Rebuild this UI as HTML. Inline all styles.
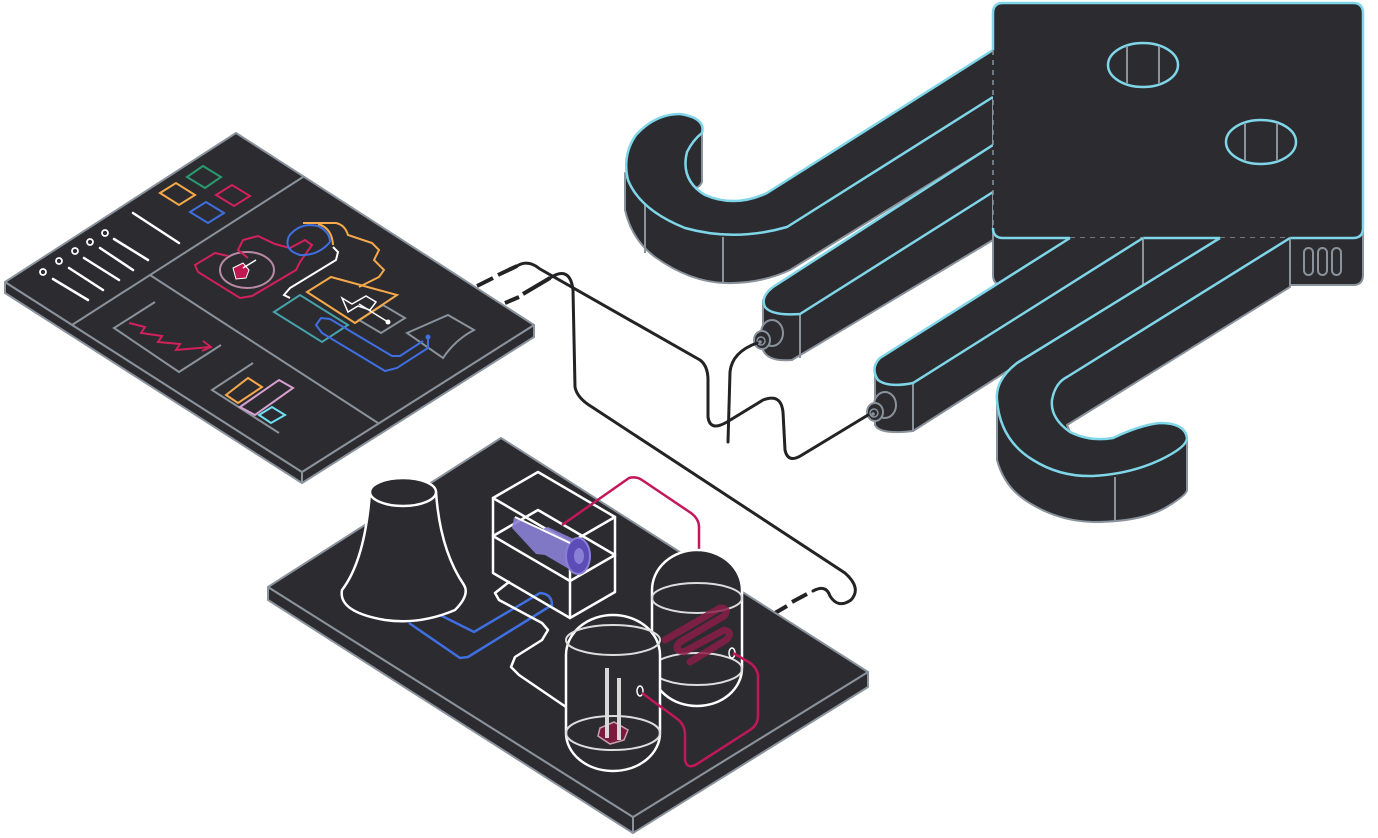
<!DOCTYPE html>
<html><head><meta charset="utf-8"><style>
html,body{margin:0;padding:0;background:#fff;}
svg{display:block;}
</style></head><body>
<svg width="1378" height="838" viewBox="0 0 1378 838" xmlns="http://www.w3.org/2000/svg">
<defs>
<style>
.d{fill:#2b2b30;stroke:#8a929c;stroke-width:2;stroke-linejoin:round}
.c{fill:#2b2b30;stroke:#7fd6e8;stroke-width:2.5;stroke-linejoin:round}
.g{fill:none;stroke:#8a929c;stroke-width:2}
.k{fill:none;stroke:#232326;stroke-width:3;stroke-linecap:round;stroke-linejoin:round}
.kd{fill:none;stroke:#232326;stroke-width:4;stroke-linecap:butt}
.w{fill:none;stroke:#fff;stroke-width:2.5;stroke-linejoin:round;stroke-linecap:round}
</style>
</defs>

<!-- ===== TOP RIGHT STRUCTURE ===== -->
<!-- J1 side -->
<path class="d" d="M625,173 L625,210 Q632,240 655,257 Q690,282 725,283 Q760,284 790,270 L993,145 L993,97 L787,227 Q735,242 685,228 Q640,210 628,180 Z"/>
<path class="d" d="M702,133 L702,182 Q698,191 688,186 L682,170 Q680,150 702,133Z"/>
<line class="g" x1="645" y1="205" x2="645" y2="253"/>
<line class="g" x1="723" y1="237" x2="723" y2="282"/>
<!-- J1 top -->
<path class="c" d="M993,50 L767,193 Q735,208 705,195 Q680,180 687,152 Q693,140 702,133 Q706,118 680,114 Q655,114 636,135 Q622,155 628,180 Q640,210 685,228 Q735,242 787,227 L993,97"/>
<!-- Bar2 side -->
<path class="d" d="M763,300 L763,350 Q768,362 792,360 L993,240 L993,192 L800,314 Q772,316 765,307 Z"/>
<line class="g" x1="800" y1="314" x2="800" y2="358"/>
<path class="c" d="M993,145 L773,287 Q760,297 765,307 Q772,316 800,314 L993,192"/>
<!-- bar2 knob -->
<ellipse class="d" cx="772" cy="333" rx="11" ry="13"/>
<ellipse class="d" cx="762" cy="340" rx="8" ry="9"/>
<circle cx="761" cy="341" r="4" fill="none" stroke="#8a929c" stroke-width="1.5"/>
<circle cx="760" cy="342" r="1.8" fill="#8a929c"/>

<!-- square box under -->
<path class="d" d="M993,230 L993,275 Q993,285 1003,285 L1353,285 Q1363,285 1363,275 L1363,230 Z"/>
<line class="g" x1="1138" y1="238" x2="1138" y2="283"/>
<line class="g" x1="1290" y1="238" x2="1290" y2="285"/>
<rect x="1304" y="248" width="9" height="27" rx="4.5" fill="none" stroke="#8a929c" stroke-width="2"/>
<rect x="1318" y="248" width="9" height="27" rx="4.5" fill="none" stroke="#8a929c" stroke-width="2"/>
<rect x="1332" y="248" width="9" height="27" rx="4.5" fill="none" stroke="#8a929c" stroke-width="2"/>
<!-- square top -->
<rect x="993" y="3" width="370" height="235" rx="10" fill="#2b2b30"/>
<path d="M993,50 L993,13 Q993,3 1003,3 L1353,3 Q1363,3 1363,13 L1363,228 Q1363,238 1353,238 L1290,238" fill="none" stroke="#7fd6e8" stroke-width="2.5"/>
<path d="M993,50 L993,228" fill="none" stroke="#8a929c" stroke-width="1.5" stroke-dasharray="5,5"/>
<path d="M993,228 Q993,238 1003,238 L1070,238 M1143,238 L1220,238" fill="none" stroke="#7fd6e8" stroke-width="2.5"/>
<path d="M1070,238 L1143,238 M1220,238 L1290,238" fill="none" stroke="#8a929c" stroke-width="1.5" stroke-dasharray="5,5"/>
<ellipse cx="1143" cy="65" rx="35" ry="22" fill="none" stroke="#7fd6e8" stroke-width="2.5"/>
<line class="g" x1="1127" y1="46" x2="1127" y2="84"/><line class="g" x1="1159" y1="46" x2="1159" y2="84"/>
<ellipse cx="1261" cy="142" rx="35" ry="22" fill="none" stroke="#7fd6e8" stroke-width="2.5"/>
<line class="g" x1="1245" y1="123" x2="1245" y2="161"/><line class="g" x1="1277" y1="123" x2="1277" y2="161"/>

<!-- Bar3 -->
<path class="d" d="M875,367 L875,425 Q880,435 913,431 L1143,285 L1143,238 L913,383 Q888,388 878,380 Z"/>
<line class="g" x1="913" y1="383" x2="913" y2="431"/>
<path class="c" d="M1070,238 L880,358 Q870,368 878,380 Q888,388 913,383 L1143,238"/>
<ellipse class="d" cx="885" cy="405" rx="11" ry="13"/>
<ellipse class="d" cx="875" cy="412" rx="8" ry="9"/>
<circle cx="874" cy="413" r="4" fill="none" stroke="#8a929c" stroke-width="1.5"/>
<circle cx="873" cy="414" r="1.8" fill="#8a929c"/>

<!-- J2 -->
<path class="d" d="M1067,425 L1290,287 L1290,238 L1067,377 Q1055,383 1052,400 Q1050,418 1070,432 Z"/>
<path class="d" d="M997,400 L997,460 Q1005,490 1033,505 Q1060,521 1093,522 Q1140,522 1165,508 Q1187,495 1187,490 L1187,440 Q1185,447 1160,460 Q1130,474 1093,476 Q1060,477 1033,460 Q1000,440 997,400 Z"/>
<line class="g" x1="1115" y1="477" x2="1115" y2="520"/>
<path class="c" d="M1220,238 L1017,363 Q995,380 997,400 Q1000,440 1033,460 Q1060,477 1093,476 Q1130,474 1160,460 Q1187,447 1187,438 Q1185,423 1160,423 Q1140,425 1113,438 Q1090,442 1070,432 Q1050,418 1052,400 Q1055,383 1067,377 L1290,238"/>

<!-- ===== CABLES ===== -->
<line class="kd" x1="477" y1="286" x2="493" y2="278"/>
<line class="kd" x1="498" y1="275" x2="517" y2="266"/>
<path class="k" d="M517,266 Q528,259 540,269 L700,360 Q708,366 708,380 L708,417 Q710,432 727,422 L763,400 Q781,393 783,412 L785,450 Q788,464 802,455 L868,415"/>
<line class="kd" x1="505" y1="303" x2="519" y2="297"/>
<line class="kd" x1="523" y1="294" x2="550" y2="278"/>
<path class="k" d="M550,278 Q570,265 573,290 L575,387 Q577,398 592,407 L845,573 Q862,588 851,600 Q838,609 830,596 Q826,584 813,591"/>
<line class="kd" x1="807" y1="594" x2="792" y2="602"/>
<line class="kd" x1="787" y1="606" x2="775" y2="613"/>
<path class="k" d="M757,343 Q732,352 730,372 L728,442"/>

<!-- ===== LEFT PANEL ===== -->
<path class="d" d="M5,282 L302,472 L534,325 L534,337 L302,483 L5,293 Z"/>
<line class="g" x1="302" y1="472" x2="302" y2="483"/>
<path class="d" d="M236,133 L5,282 L302,472 L534,325 Z"/>
<line class="g" x1="303" y1="177" x2="72" y2="325"/>
<line class="g" x1="150" y1="275" x2="378" y2="423"/>
<!-- colored squares -->
<path d="M160,193 L176,183 L195,195 L179,205 Z" fill="none" stroke="#f5a94a" stroke-width="2"/>
<path d="M187,177 L203,166 L221,177 L205,188 Z" fill="none" stroke="#2a9a6e" stroke-width="2"/>
<path d="M216,195 L232,185 L250,196 L234,206 Z" fill="none" stroke="#d2215a" stroke-width="2"/>
<path d="M190,212 L206,202 L224,213 L208,223 Z" fill="none" stroke="#3f6fe0" stroke-width="2"/>
<line class="w" x1="133" y1="213" x2="179" y2="243"/>
<g fill="none" stroke="#fff" stroke-width="1.8">
<circle cx="43" cy="272" r="3"/><circle cx="59" cy="261" r="3"/><circle cx="75" cy="251" r="3"/><circle cx="90" cy="242" r="3"/><circle cx="105" cy="233" r="3"/>
</g>
<g class="w">
<line x1="53" y1="279" x2="88" y2="300"/><line x1="69" y1="268" x2="103" y2="290"/><line x1="84" y1="258" x2="119" y2="280"/><line x1="100" y1="248" x2="133" y2="270"/><line x1="114" y1="239" x2="148" y2="260"/>
</g>
<!-- chart -->
<polyline points="155,302 114,328 179,372 221,345" fill="none" stroke="#8a929c" stroke-width="2"/>
<polyline points="129,323 145,327 141,333 162,336 158,342 180,344 176,350 210,347" fill="none" stroke="#d2215a" stroke-width="2"/>
<path d="M203,341 L211,347 L202,351" fill="none" stroke="#d2215a" stroke-width="2"/>
<!-- bar chart -->
<polyline points="253,363 212,390 279,433" fill="none" stroke="#8a929c" stroke-width="2"/>
<path d="M226,395 L248,378 L262,387 L238,403 Z" fill="none" stroke="#f5a94a" stroke-width="2"/>
<path d="M240,407 L279,380 L293,388 L255,415 Z" fill="none" stroke="#d7a0d0" stroke-width="2"/>
<path d="M259,415 L272,407 L285,415 L271,423 Z" fill="none" stroke="#6fe0f0" stroke-width="2"/>
<!-- circuit -->
<path d="M274,312 L300,295 L348,325 L322,342 Z" fill="none" stroke="#46a3ab" stroke-width="2"/>
<path d="M359,320 L383,305 L405,318 L381,333 Z" fill="none" stroke="#8a929c" stroke-width="2"/>
<path d="M407,333 L448,315 L474,330 Q455,340 443,358 Z" fill="none" stroke="#8a929c" stroke-width="2"/>
<ellipse cx="247" cy="270" rx="27" ry="18" fill="none" stroke="#b88aa6" stroke-width="2"/>
<path d="M248,258 L238,250 L243,240 L258,236 L275,244 L290,248 L305,240 L312,245 L300,262 L296,270 L252,296 L240,298 L198,272 L195,265 L215,253 L228,256" fill="none" stroke="#d2215a" stroke-width="2"/>
<path d="M233,268 L243,263 L249,270 L246,278 L236,279 Z" fill="#c0184f" stroke="#fff" stroke-width="1"/>
<line x1="243" y1="268" x2="256" y2="260" stroke="#fff" stroke-width="1.5"/>
<path d="M289,236 Q300,222 318,226 Q330,232 330,242" fill="none" stroke="#3f6fe0" stroke-width="2"/>
<path d="M289,236 Q283,250 300,255 Q318,256 330,242" fill="none" stroke="#3f6fe0" stroke-width="2"/>
<path d="M303,223 L336,223 Q345,225 348,235 L372,243 L379,250 L374,260 L384,270 L379,277 L359,287" fill="none" stroke="#f5a94a" stroke-width="2"/>
<path d="M318,224 Q332,228 333,245" fill="none" stroke="#f5a94a" stroke-width="2"/>
<path d="M307,292 L331,277 L397,295 L355,323 Z" fill="none" stroke="#f5a94a" stroke-width="2"/>
<path d="M333,247 L338,252 L336,260 L290,288 L284,295 L290,298" fill="none" stroke="#fff" stroke-width="2"/>
<path d="M342,298 L352,304 L366,296 L376,302 L370,310 L358,306 L348,312 Z" fill="#2b2b30" stroke="#fff" stroke-width="1.5"/>
<line x1="359" y1="304" x2="388" y2="322" stroke="#fff" stroke-width="1.5"/>
<circle cx="388" cy="322" r="2.5" fill="#fff"/>
<path d="M428,337 L428,348 L397,368 L385,371 L322,333 L316,325 L321,318 L330,319 L392,356 L400,356 L423,341" fill="none" stroke="#3f6fe0" stroke-width="2"/>
<circle cx="428" cy="337" r="2.5" fill="#3f6fe0"/>

<!-- ===== BOTTOM BOARD ===== -->
<path class="d" d="M268,587 L633,817 L868,672 L868,687 L633,833 L268,600 Z"/>
<line class="g" x1="633" y1="817" x2="633" y2="833"/>
<path class="d" d="M501,438 L268,587 L633,817 L868,672 Z"/>
<!-- blue pipe -->
<path d="M440,615 L474,632 L540,593 Q552,594 552,605 L468,657 L460,658 L409,623" fill="none" stroke="#3f6fe0" stroke-width="2.5"/>
<!-- white pipe -->
<path d="M509,582 L495,593 L499,600 L542,623 L548,630 L542,640 L515,657 L511,667 L519,675 L566,707" class="w"/>
<!-- cooling tower -->
<path d="M370,492 Q365,560 342,590 Q338,612 385,620 Q420,625 455,610 Q470,595 464,585 Q440,550 436,492 Z" fill="#2b2b30" stroke="#fff" stroke-width="2.5"/>
<ellipse cx="403" cy="492" rx="33" ry="14" fill="#2b2b30" stroke="#fff" stroke-width="2.5"/>
<!-- wire box -->
<g class="w" stroke-width="2">
<path d="M493,498 L538,472 L615,517 L570,543 Z"/>
<path d="M493,498 L493,573 L570,618 L615,592 L615,517"/>
<line x1="570" y1="543" x2="570" y2="618"/>
<path d="M493,536 L538,510 L615,555 L570,581 Z"/>
</g>
<!-- turbine -->
<path d="M514,517 L540,530 L548,527 L580,542 L586,565 L574,572 L545,555 L536,554 L512,528 Z" fill="#8a7fd6" opacity="0.9"/>
<ellipse cx="578" cy="556" rx="12" ry="18" fill="#5b4cb8" stroke="#8a7fd6" stroke-width="2"/>
<ellipse cx="579" cy="556" rx="5" ry="8" fill="#8a7fd6"/>
<line x1="515" y1="517" x2="570" y2="543" stroke="#fff" stroke-width="2"/>
<!-- red wire 1 -->
<path d="M562,525 L629,478 Q636,476 642,480 L691,513 Q699,519 699,527 L699,552" fill="none" stroke="#c2185b" stroke-width="2.5"/>
<!-- tank A -->
<path d="M652,590 A45,40 0 0 1 742,590 L742,668 A45,38 0 0 1 652,668 Z" fill="#2b2b30" stroke="#fff" stroke-width="2.5"/>
<ellipse cx="697" cy="598" rx="45" ry="15" fill="none" stroke="#ddd" stroke-width="2"/>
<ellipse cx="697" cy="669" rx="45" ry="16" fill="none" stroke="#ddd" stroke-width="2"/>
<path d="M665,640 L720,608 Q730,608 724,616 L680,642 Q672,650 684,652 L724,630 Q734,632 726,640 L690,662" fill="none" stroke="#8a1e48" stroke-width="7" stroke-linecap="round" opacity="0.85"/>
<ellipse cx="732" cy="653" rx="3" ry="5" fill="#2b2b30" stroke="#fff" stroke-width="1.5"/>
<!-- tank B -->
<path d="M566,655 A47,40 0 0 1 660,655 L660,733 A47,38 0 0 1 566,733 Z" fill="#2b2b30" stroke="#fff" stroke-width="2.5"/>
<ellipse cx="613" cy="640" rx="47" ry="15" fill="none" stroke="#ddd" stroke-width="2"/>
<path d="M600,728 L614,722 L628,730 L624,740 L610,744 L598,736 Z" fill="#7a1a3c" stroke="#c9a0b0" stroke-width="1.5"/>
<line x1="607" y1="668" x2="607" y2="738" stroke="#d8d8d8" stroke-width="4"/>
<line x1="619" y1="678" x2="619" y2="740" stroke="#d8d8d8" stroke-width="4"/>
<ellipse cx="613" cy="733" rx="47" ry="17" fill="none" stroke="#ddd" stroke-width="2"/>
<ellipse cx="640" cy="691" rx="3" ry="5" fill="#2b2b30" stroke="#fff" stroke-width="1.5"/>
<!-- red wire 2 -->
<path d="M642,693 L676,718 Q685,724 685,735 L685,760 Q687,770 697,764 L750,730 Q758,725 758,715 L758,675 Q756,665 745,660 L733,653" fill="none" stroke="#c2185b" stroke-width="2.5"/>
</svg>
</body></html>
